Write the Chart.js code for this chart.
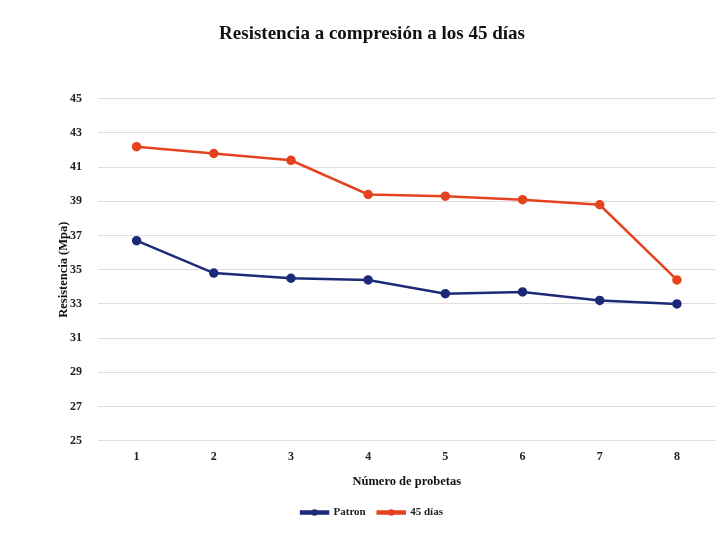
<!DOCTYPE html>
<html>
<head>
<meta charset="utf-8">
<script src="https://cdn.jsdelivr.net/npm/chart.js@4.4.1/dist/chart.umd.min.js"></script>
<style>
  html, body { margin: 0; padding: 0; background: #ffffff; }
  #wrap { width: 722px; height: 538px; position: relative; }
</style>
</head>
<body>
<div id="wrap"><canvas id="myChart"></canvas></div>
<script>
// probetas 1..8
var probetas = ["1", "2", "3", "4", "5", "6", "7", "8"];
var patron = [36.7, 34.8, 34.5, 34.4, 33.6, 33.7, 33.2, 33.0];
var dias45 = [42.2, 41.8, 41.4, 39.4, 39.3, 39.1, 38.8, 34.4];
var ejeY = { min: 25, max: 45, paso: 2 };

var azul = "#1d2a78";
var rojo = "#e5421f";
var serif = "'Liberation Serif', 'Times New Roman', serif";

// dibuja el punto en medio de la linea de la leyenda
var puntoLeyenda = {
    id: "puntoLeyenda",
    afterDraw: function (chart) {
        var leg = chart.legend;
        if (!leg || !leg.legendHitBoxes) return;
        var ctx = chart.ctx;
        leg.legendHitBoxes.forEach(function (box, i) {
            var ds = chart.data.datasets[i];
            ctx.save();
            ctx.fillStyle = ds.borderColor;
            ctx.beginPath();
            ctx.arc(box.left + 13.5, box.top + box.height / 2, 3.2, 0, Math.PI * 2);
            ctx.fill();
            ctx.restore();
        });
    }
};

new Chart("myChart", {
    type: "line",
    data: {
        labels: probetas,
        datasets: [
            {
                label: "Patron",
                data: patron,
                borderColor: azul,
                backgroundColor: azul,
                borderWidth: 2.5,
                pointRadius: 3.5,
                pointBackgroundColor: azul,
                pointBorderColor: azul,
                tension: 0
            },
            {
                label: "45 días",
                data: dias45,
                borderColor: rojo,
                backgroundColor: rojo,
                borderWidth: 2.5,
                pointRadius: 3.5,
                pointBackgroundColor: rojo,
                pointBorderColor: rojo,
                tension: 0
            }
        ]
    },
    options: {
        responsive: true,
        maintainAspectRatio: false,
        animation: false,
        layout: { padding: { left: 28, right: 6, top: 0, bottom: 10 } },
        plugins: {
            title: {
                display: true,
                text: "Resistencia a compresión a los 45 días",
                color: "#111",
                font: { family: serif, size: 19, weight: "bold" },
                padding: { top: 23, bottom: 53 }
            },
            legend: {
                display: true,
                position: "bottom",
                labels: {
                    color: "#222",
                    font: { family: serif, size: 11, weight: "bold" },
                    boxWidth: 27,
                    boxHeight: 2,
                    padding: 12
                }
            },
            tooltip: { enabled: false }
        },
        scales: {
            x: {
                offset: true,
                grid: { display: false },
                border: { display: false },
                ticks: {
                    color: "#222",
                    padding: 1,
                    font: { family: serif, size: 12, weight: "bold" }
                },
                title: {
                    display: true,
                    text: "Número de probetas",
                    color: "#111",
                    font: { family: serif, size: 12.5, weight: "bold" },
                    padding: { top: 9, bottom: 6 }
                }
            },
            y: {
                min: ejeY.min,
                max: ejeY.max,
                afterFit: function (scale) { scale.width = 70; },
                grid: { color: "#dddddd", lineWidth: 1, drawTicks: false },
                border: { display: false },
                ticks: {
                    stepSize: ejeY.paso,
                    color: "#222",
                    padding: 16,
                    font: { family: serif, size: 12, weight: "bold" }
                },
                title: {
                    display: true,
                    text: "Resistencia (Mpa)",
                    color: "#111",
                    font: { family: serif, size: 12.5, weight: "bold" },
                    padding: { top: 28, bottom: 0 }
                }
            }
        }
    },
    plugins: [puntoLeyenda]
});
</script>
</body>
</html>
